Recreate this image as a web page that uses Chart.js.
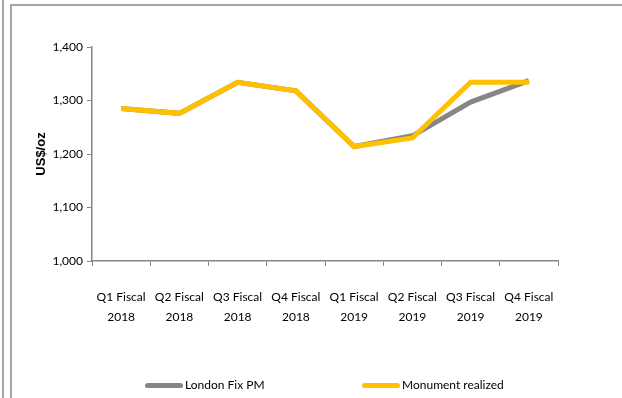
<!DOCTYPE html>
<html>
<head>
  <title>Gold price</title>
  <style>
body {
  margin: 0;
  background: #fff;
}

.frame {
  position: relative;
  width: 622px;
  height: 398px;
  overflow: hidden;
}

.line-left-outer {
  position: absolute;
  left: 2px;
  top: 0;
  width: 2px;
  height: 398px;
  background: #a6a6a6;
}

.line-left-inner {
  position: absolute;
  left: 10px;
  top: 4px;
  width: 2px;
  height: 394px;
  background: #a6a6a6;
}

.line-top {
  position: absolute;
  left: 10px;
  top: 4px;
  width: 612px;
  height: 2px;
  background: #a6a6a6;
}

#priceChart {
  position: absolute;
  left: 0;
  top: 0;
}

.legend-item {
  position: absolute;
  top: 377px;
  font-family: Lato, "Liberation Sans", sans-serif;
  font-size: 12px;
  color: #000;
  white-space: nowrap;
  line-height: 16px;
}

.legend-swatch {
  display: inline-block;
  width: 38px;
  height: 5px;
  border-radius: 3px;
  vertical-align: middle;
  margin-right: 2px;
}
  </style>
  <script src="https://cdn.jsdelivr.net/npm/chart.js@4"></script>
</head>
<body>
  <div class="frame">
    <div class="line-left-outer"></div>
    <div class="line-left-inner"></div>
    <div class="line-top"></div>
    <canvas id="priceChart" width="622" height="398"></canvas>
    <div id="legend"></div>
  </div>
  <script type="text/javascript">
    // quarters and prices
    var quarters = [
      ['Q1 Fiscal', '2018'], ['Q2 Fiscal', '2018'], ['Q3 Fiscal', '2018'], ['Q4 Fiscal', '2018'],
      ['Q1 Fiscal', '2019'], ['Q2 Fiscal', '2019'], ['Q3 Fiscal', '2019'], ['Q4 Fiscal', '2019']
    ];
    var londonFix = [1285, 1276, 1334, 1318, 1214, 1234, 1297, 1337];
    var monumentRealized = [1285, 1276, 1334, 1318, 1214, 1230, 1334, 1334];
    var yTicks = [1000, 1100, 1200, 1300, 1400];

    var fontFamily = 'Lato, "Liberation Sans", sans-serif';

    var ctx = document.getElementById('priceChart').getContext('2d');
    var priceChart = new Chart(ctx, {
      type: 'line',
      data: {
        labels: quarters,
        datasets: [{
          label: 'London Fix PM',
          data: londonFix,
          borderColor: '#868686',
          backgroundColor: '#868686',
          borderWidth: 5,
          pointRadius: 0,
          tension: 0,
          order: 2
        }, {
          label: 'Monument realized',
          data: monumentRealized,
          borderColor: '#ffc000',
          backgroundColor: '#ffc000',
          borderWidth: 5,
          pointRadius: 0,
          tension: 0,
          order: 1
        }]
      },
      options: {
        responsive: false,
        animation: false,
        devicePixelRatio: 1,
        layout: {
          padding: { left: 34, right: 64, top: 47, bottom: 55 }
        },
        plugins: {
          tooltip: { enabled: false },
          legend: { display: false }
        },
        scales: {
          x: {
            offset: true,
            grid: {
              display: true,
              offset: true,
              drawOnChartArea: false,
              tickLength: 5,
              color: '#868686'
            },
            border: { color: '#868686', width: 1.5 },
            ticks: {
              color: '#000',
              font: { family: fontFamily, size: 12, lineHeight: 1.6 },
              padding: 22,
              maxRotation: 0
            },
            afterFit: function(scale) { scale.height = 82; }
          },
          y: {
            min: 1000,
            max: 1400,
            afterBuildTicks: function(scale) {
              scale.ticks = yTicks.map(function(v) { return { value: v }; });
            },
            grid: {
              display: true,
              drawOnChartArea: false,
              tickLength: 5,
              color: '#868686'
            },
            border: { color: '#868686', width: 1.5 },
            ticks: {
              color: '#000',
              font: { family: fontFamily, size: 12 },
              padding: 4,
              callback: function(v) { return v.toLocaleString('en-US'); }
            },
            title: {
              display: true,
              text: 'US$/oz',
              color: '#000',
              font: { family: '"Liberation Sans", sans-serif', size: 13, weight: 'bold' },
              padding: 0
            },
            afterFit: function(scale) { scale.width = 58; }
          }
        }
      }
    });

    // legend built from the datasets, spaced like the original
    var legendLeft = [145, 362];
    var legendEl = document.getElementById('legend');
    priceChart.data.datasets.forEach(function(ds, i) {
      var item = document.createElement('div');
      item.className = 'legend-item';
      item.style.left = legendLeft[i] + 'px';
      var sw = document.createElement('span');
      sw.className = 'legend-swatch';
      sw.style.background = ds.borderColor;
      item.appendChild(sw);
      item.appendChild(document.createTextNode(ds.label));
      legendEl.appendChild(item);
    });
  </script>
</body>
</html>
